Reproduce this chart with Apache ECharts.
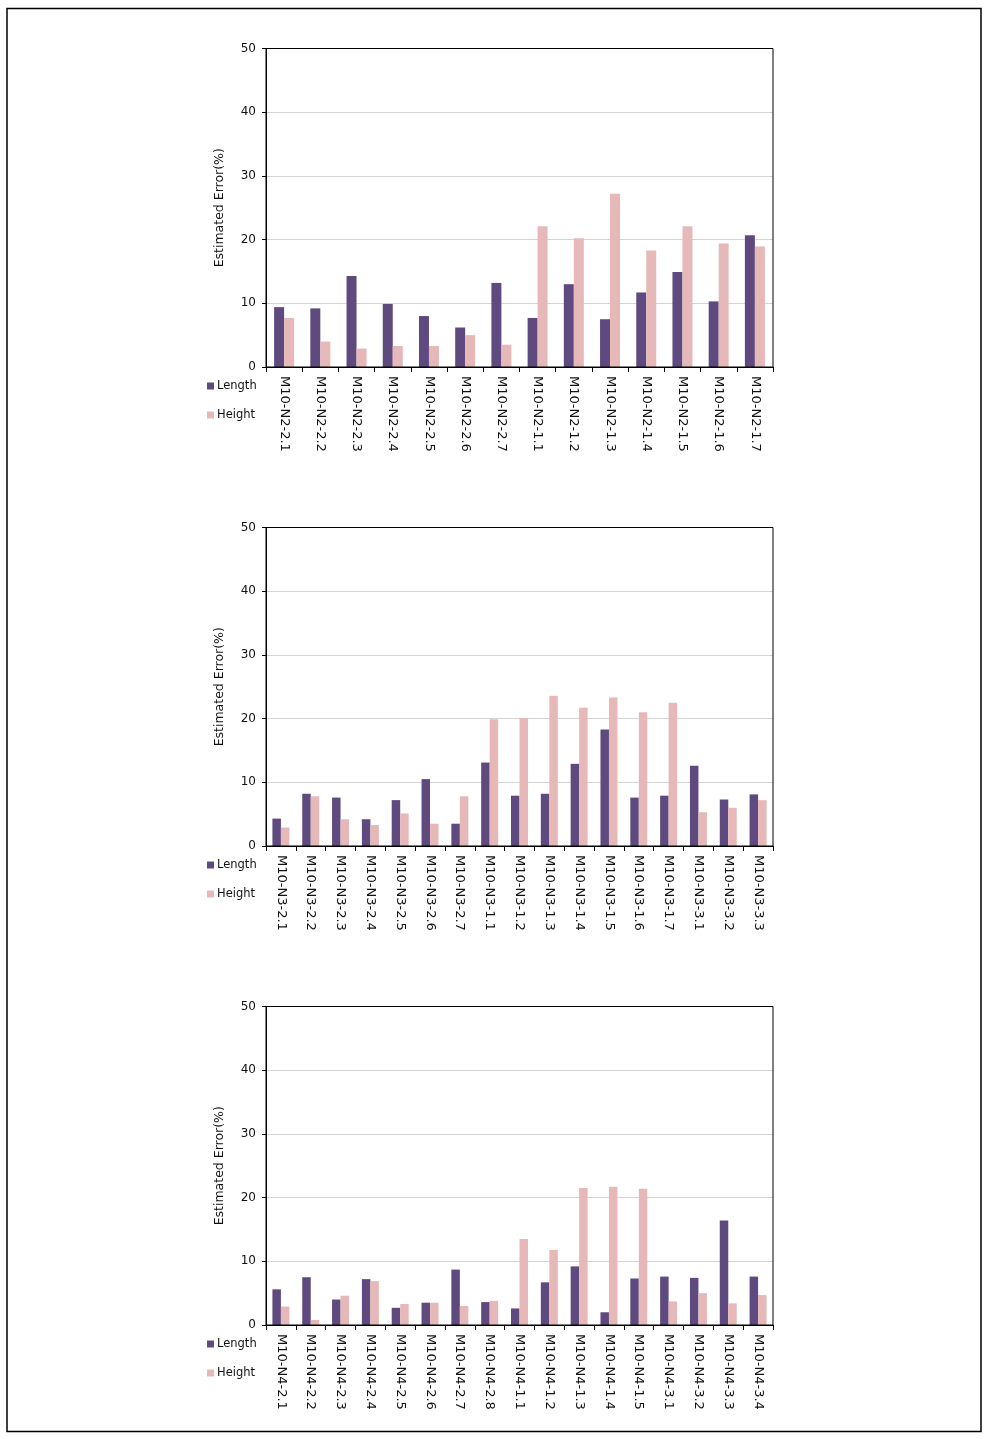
<!DOCTYPE html>
<html>
<head>
<meta charset="utf-8">
<script src="https://cdn.jsdelivr.net/npm/echarts@6/dist/echarts.min.js"></script>
<style>
html,body{margin:0;padding:0;background:#fff;}
#chart{width:989px;height:1439px;}
</style>
</head>
<body>
<div id="chart"></div>
<script>
// ---- Data ----
const catsN2 = ['M10-N2-2.1','M10-N2-2.2','M10-N2-2.3','M10-N2-2.4','M10-N2-2.5','M10-N2-2.6','M10-N2-2.7','M10-N2-1.1','M10-N2-1.2','M10-N2-1.3','M10-N2-1.4','M10-N2-1.5','M10-N2-1.6','M10-N2-1.7'];
const lengthN2 = [9.4, 9.2, 14.3, 9.9, 8.0, 6.2, 13.2, 7.7, 13.0, 7.5, 11.7, 14.9, 10.3, 20.7];
const heightN2 = [7.7, 4.0, 2.9, 3.3, 3.3, 5.0, 3.5, 22.1, 20.2, 27.2, 18.3, 22.1, 19.4, 18.9];

const catsN3 = ['M10-N3-2.1','M10-N3-2.2','M10-N3-2.3','M10-N3-2.4','M10-N3-2.5','M10-N3-2.6','M10-N3-2.7','M10-N3-1.1','M10-N3-1.2','M10-N3-1.3','M10-N3-1.4','M10-N3-1.5','M10-N3-1.6','M10-N3-1.7','M10-N3-3.1','M10-N3-3.2','M10-N3-3.3'];
const lengthN3 = [4.3, 8.2, 7.6, 4.2, 7.2, 10.5, 3.5, 13.1, 7.9, 8.2, 12.9, 18.3, 7.6, 7.9, 12.6, 7.3, 8.1];
const heightN3 = [2.9, 7.8, 4.2, 3.3, 5.1, 3.5, 7.8, 19.9, 20.1, 23.6, 21.7, 23.3, 21.0, 22.5, 5.3, 6.0, 7.2];

const catsN4 = ['M10-N4-2.1','M10-N4-2.2','M10-N4-2.3','M10-N4-2.4','M10-N4-2.5','M10-N4-2.6','M10-N4-2.7','M10-N4-2.8','M10-N4-1.1','M10-N4-1.2','M10-N4-1.3','M10-N4-1.4','M10-N4-1.5','M10-N4-3.1','M10-N4-3.2','M10-N4-3.3','M10-N4-3.4'];
const lengthN4 = [5.6, 7.5, 4.0, 7.2, 2.7, 3.5, 8.7, 3.6, 2.6, 6.7, 9.2, 2.0, 7.3, 7.6, 7.4, 16.4, 7.6];
const heightN4 = [2.9, 0.8, 4.6, 6.9, 3.3, 3.5, 3.0, 3.8, 13.5, 11.8, 21.5, 21.7, 21.4, 3.7, 5.0, 3.4, 4.7];

const yTicks = {min: 0, max: 50, interval: 10};
const seriesNames = ['Length', 'Height'];
const colors = ['#5e4a7e', '#e6b9b8'];

// ---- Layout ----
const panels = [
  {cats: catsN2, len: lengthN2, hei: heightN2, top: 48.5, barW: 10},
  {cats: catsN3, len: lengthN3, hei: heightN3, top: 527.5, barW: 8.5},
  {cats: catsN4, len: lengthN4, hei: heightN4, top: 1006.5, barW: 8.5}
];
const plotH = 318.5, plotLeft = 266, plotW = 507;

const chart = echarts.init(document.getElementById('chart'), null, {renderer: 'canvas'});

const grid = [], xAxis = [], yAxis = [], series = [], legend = [];
panels.forEach((p, i) => {
  grid.push({left: plotLeft, top: p.top, width: plotW, height: plotH, show: true,
    borderColor: '#000', borderWidth: 1, backgroundColor: 'transparent', containLabel: false, z: 5});
  xAxis.push({type: 'category', gridIndex: i, data: p.cats,
    axisLine: {lineStyle: {color: '#000', width: 1}},
    axisTick: {show: true, alignWithLabel: false, length: 5, lineStyle: {color: '#000'}},
    axisLabel: {rotate: -90, interval: 0, fontFamily: 'DejaVu Sans', fontSize: 13, color: '#111', margin: 9},
    splitLine: {show: false}});
  yAxis.push({type: 'value', gridIndex: i, min: yTicks.min, max: yTicks.max, interval: yTicks.interval,
    name: 'Estimated Error(%)', nameLocation: 'middle', nameGap: 40,
    nameTextStyle: {fontFamily: 'DejaVu Sans', fontSize: 12.5, color: '#111'},
    axisLine: {show: true, lineStyle: {color: '#000', width: 1}},
    axisTick: {show: true, length: 4, lineStyle: {color: '#000'}},
    axisLabel: {fontFamily: 'DejaVu Sans', fontSize: 12, color: '#111', margin: 10},
    splitLine: {show: true, showMinLine: false, showMaxLine: false, lineStyle: {color: '#d4d4d4', width: 1}}});
  series.push({name: seriesNames[0], type: 'bar', xAxisIndex: i, yAxisIndex: i, data: p.len,
    barWidth: p.barW, barGap: '0%', itemStyle: {color: colors[0]}, animation: false});
  series.push({name: seriesNames[1], type: 'bar', xAxisIndex: i, yAxisIndex: i, data: p.hei,
    barWidth: p.barW, barGap: '0%', itemStyle: {color: colors[1]}, animation: false});
  legend.push({data: seriesNames, orient: 'vertical', left: 202, top: p.top + plotH + 8,
    itemWidth: 7, itemHeight: 7, itemGap: 17, icon: 'rect', selectedMode: false,
    textStyle: {fontFamily: 'DejaVu Sans', fontSize: 11.5, color: '#111', padding: [0, 0, 0, -2]}});
});

chart.setOption({
  backgroundColor: '#fff',
  animation: false,
  color: colors,
  grid, xAxis, yAxis, series, legend,
  graphic: [{type: 'rect', shape: {x: 7, y: 8.5, width: 974, height: 1423},
    style: {fill: 'none', stroke: '#000', lineWidth: 1.5}, silent: true}]
});
</script>
</body>
</html>
